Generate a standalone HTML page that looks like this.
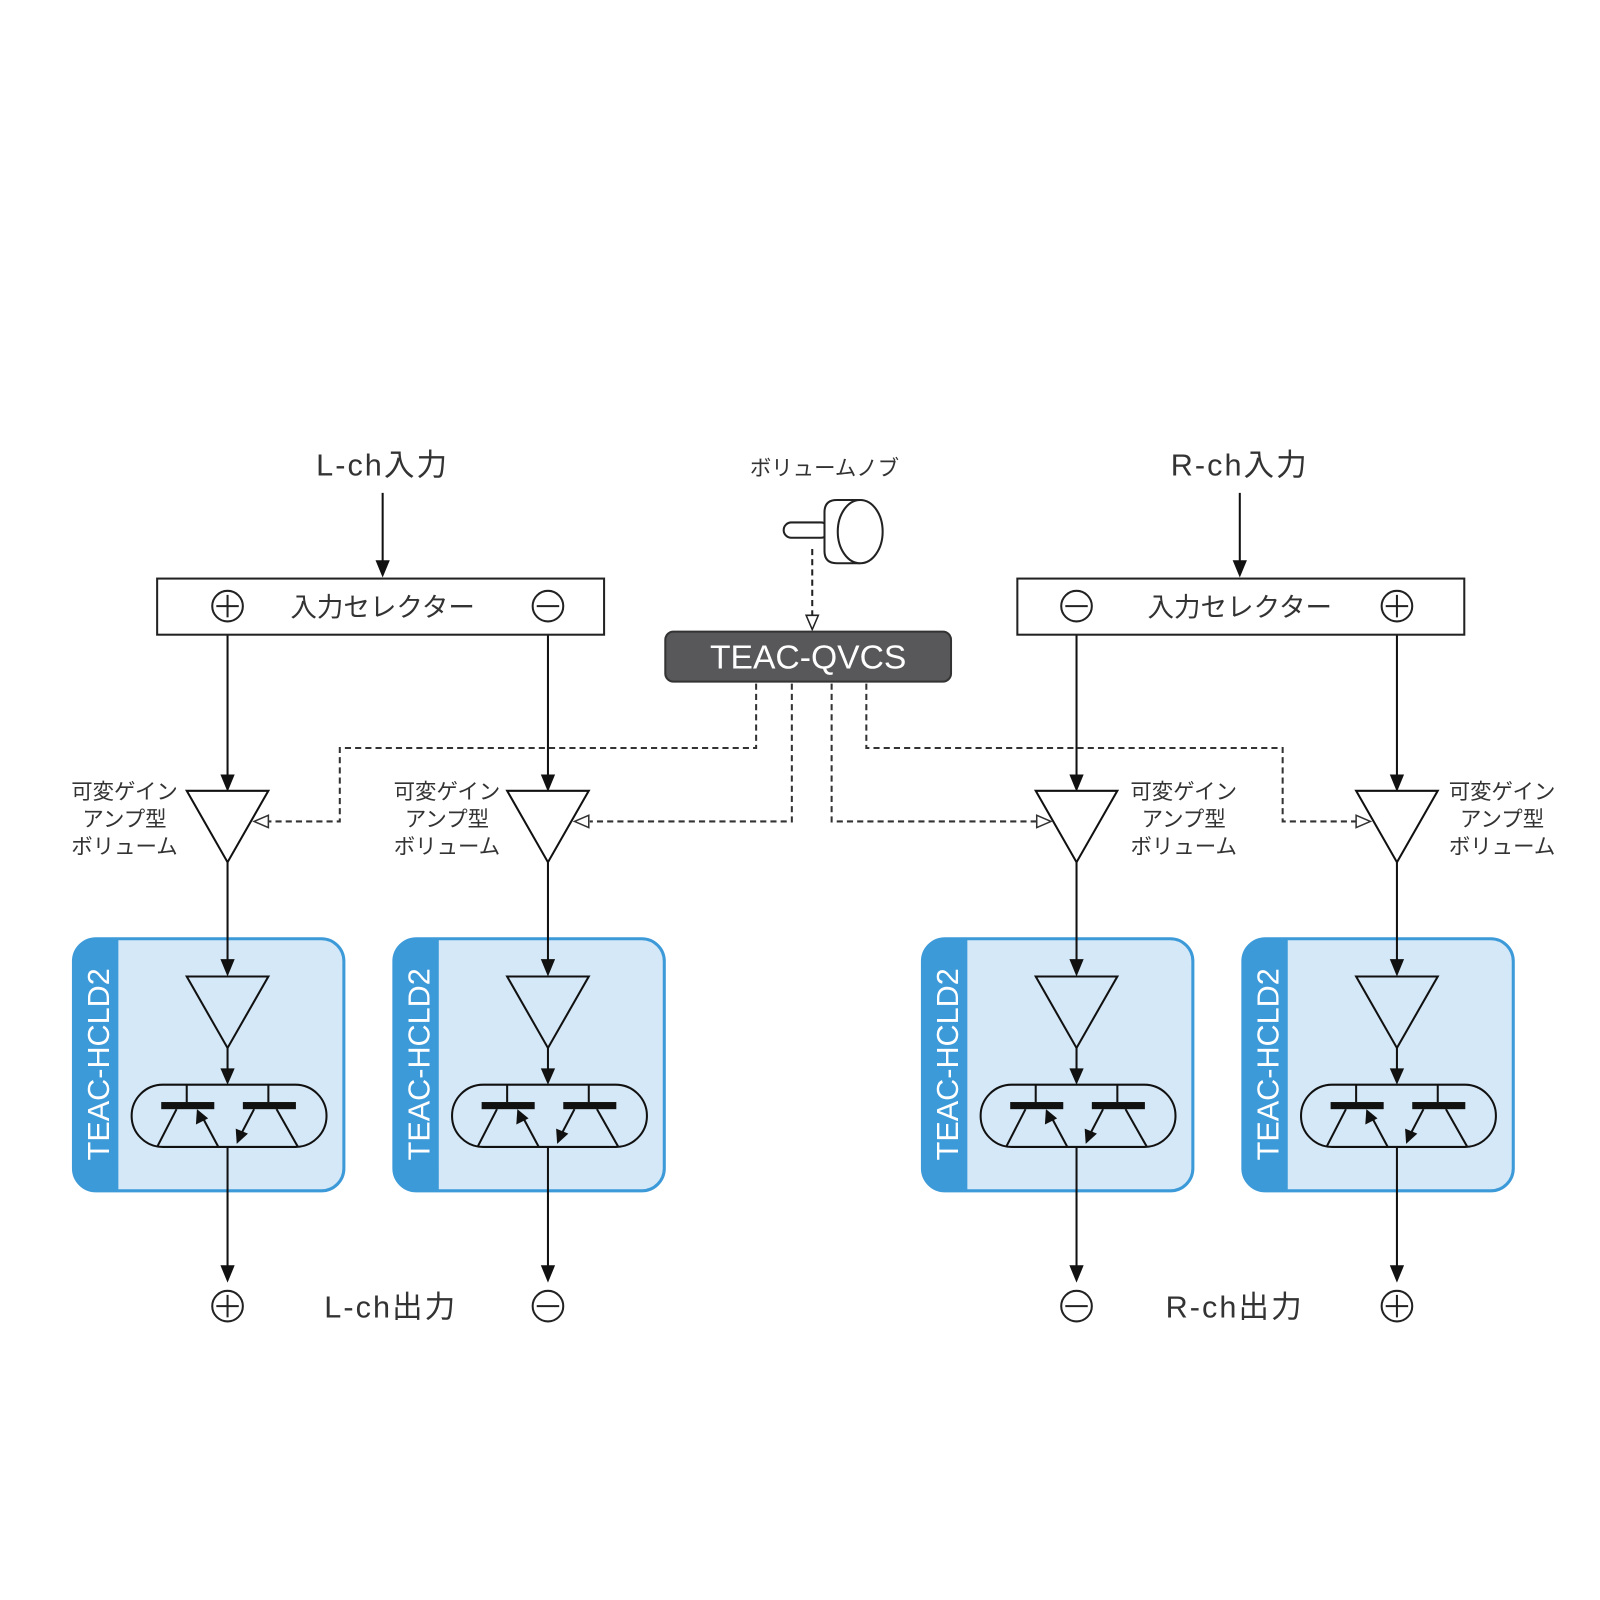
<!DOCTYPE html>
<html><head><meta charset="utf-8"><style>
html,body{margin:0;padding:0;background:#fff;}
svg{display:block;}
text{font-family:"Liberation Sans","Noto Sans CJK JP",sans-serif;fill:#333;}
</style></head><body>
<svg width="1600" height="1600" viewBox="0 0 1568 1568" xmlns="http://www.w3.org/2000/svg">
<defs>
<g id="hcld">
  <rect x="72" y="920" width="265" height="247" rx="22" fill="#d5e8f7" stroke="#3d9ad9" stroke-width="3"/>
  <path d="M116 920 H94 A22 22 0 0 0 72 942 V1145 A22 22 0 0 0 94 1167 H116 Z" fill="#3d9ad9"/>
  <text x="0" y="0" transform="translate(107,1043) rotate(-90)" text-anchor="middle" font-size="30" style="fill:#fff">TEAC-HCLD2</text>
  <line x1="223" y1="845" x2="223" y2="945" stroke="#111" stroke-width="2"/>
  <polygon points="216,940 230,940 223,957" fill="#111"/>
  <polygon points="183,957 263,957 223,1027" fill="none" stroke="#111" stroke-width="2"/>
  <line x1="223" y1="1027" x2="223" y2="1050" stroke="#111" stroke-width="2"/>
  <polygon points="216,1047 230,1047 223,1063" fill="#111"/>
  <rect x="129" y="1063" width="191" height="61" rx="30.5" fill="none" stroke="#111" stroke-width="2"/>
  <rect x="158" y="1080" width="52" height="7" fill="#111"/>
  <rect x="238" y="1080" width="52" height="7" fill="#111"/>
  <line x1="183" y1="1063" x2="183" y2="1080" stroke="#111" stroke-width="2"/>
  <line x1="263" y1="1063" x2="263" y2="1080" stroke="#111" stroke-width="2"/>
  <line x1="173" y1="1087" x2="154" y2="1124" stroke="#111" stroke-width="2"/>
  <line x1="214" y1="1124" x2="199" y2="1096" stroke="#111" stroke-width="2"/>
  <polygon points="193,1087 192,1102 204,1096" fill="#111"/>
  <line x1="249" y1="1087" x2="237" y2="1110" stroke="#111" stroke-width="2"/>
  <polygon points="232,1121 231,1106 243,1111" fill="#111"/>
  <line x1="271" y1="1087" x2="292" y2="1124" stroke="#111" stroke-width="2"/>
  <line x1="223" y1="1124" x2="223" y2="1245" stroke="#111" stroke-width="2"/>
  <polygon points="216,1240 230,1240 223,1257" fill="#111"/>
  <line x1="223" y1="622" x2="223" y2="762" stroke="#111" stroke-width="2"/>
  <polygon points="216,759 230,759 223,776" fill="#111"/>
  <polygon points="183,775 263,775 223,845" fill="#fff" stroke="#111" stroke-width="2"/>
</g>
<g id="plus"><circle r="15" fill="none" stroke="#222" stroke-width="2"/><line x1="-11" y1="0" x2="11" y2="0" stroke="#222" stroke-width="2"/><line x1="0" y1="-11" x2="0" y2="11" stroke="#222" stroke-width="2"/></g>
<g id="minus"><circle r="15" fill="none" stroke="#222" stroke-width="2"/><line x1="-11" y1="0" x2="11" y2="0" stroke="#222" stroke-width="2"/></g>
<g id="lbl" font-size="21" text-anchor="middle">
  <text x="0" y="783">可変ゲイン</text><text x="0" y="810">アンプ型</text><text x="0" y="837">ボリューム</text>
</g>
</defs>

<use href="#hcld"/>
<use href="#hcld" transform="translate(314,0)"/>
<use href="#hcld" transform="translate(832,0)"/>
<use href="#hcld" transform="translate(1146,0)"/>

<use href="#lbl" transform="translate(122,0)"/>
<use href="#lbl" transform="translate(438,0)"/>
<use href="#lbl" transform="translate(1160,0)"/>
<use href="#lbl" transform="translate(1472,0)"/>

<text x="375" y="466" font-size="30" text-anchor="middle" letter-spacing="2">L-ch入力</text>
<text x="1215" y="466" font-size="30" text-anchor="middle" letter-spacing="2">R-ch入力</text>
<text x="808" y="466" font-size="21" text-anchor="middle">ボリュームノブ</text>
<line x1="375" y1="483" x2="375" y2="553" stroke="#111" stroke-width="2"/>
<polygon points="368,549 382,549 375,566" fill="#111"/>
<line x1="1215" y1="483" x2="1215" y2="553" stroke="#111" stroke-width="2"/>
<polygon points="1208,549 1222,549 1215,566" fill="#111"/>

<rect x="154" y="567" width="438" height="55" fill="#fff" stroke="#222" stroke-width="2"/>
<use href="#plus" transform="translate(223,594)"/>
<use href="#minus" transform="translate(537,594)"/>
<text x="375" y="604" font-size="26" text-anchor="middle">入力セレクター</text>
<rect x="997" y="567" width="438" height="55" fill="#fff" stroke="#222" stroke-width="2"/>
<use href="#minus" transform="translate(1055,594)"/>
<use href="#plus" transform="translate(1369,594)"/>
<text x="1215" y="604" font-size="26" text-anchor="middle">入力セレクター</text>

<rect x="768" y="512" width="44" height="15" rx="7.5" fill="#fff" stroke="#222" stroke-width="2"/>
<path d="M843 490 H820 Q808 490 808 502 V540 Q808 552 820 552 H843" fill="#fff" stroke="#222" stroke-width="2"/>
<ellipse cx="843" cy="521" rx="22" ry="31" fill="#fff" stroke="#222" stroke-width="2"/>
<line x1="796" y1="538" x2="796" y2="603" stroke="#222" stroke-width="2" stroke-dasharray="6,4"/>
<polygon points="790,603 802,603 796,617" fill="#fff" stroke="#222" stroke-width="1.5"/>

<rect x="652" y="619" width="280" height="49" rx="8" fill="#58585a" stroke="#333" stroke-width="2"/>
<text x="792" y="655" font-size="33" text-anchor="middle" style="fill:#fff">TEAC-QVCS</text>

<g fill="none" stroke="#333" stroke-width="2" stroke-dasharray="6,4">
<polyline points="741,670 741,733 333,733 333,805 262,805"/>
<polyline points="776,670 776,805 578,805"/>
<polyline points="815,670 815,805 1016,805"/>
<polyline points="849,670 849,733 1257,733 1257,805 1330,805"/>
</g>
<g fill="#fff" stroke="#333" stroke-width="1.5">
<polygon points="249,805 263,799 263,811"/>
<polygon points="563,805 577,799 577,811"/>
<polygon points="1030,805 1016,799 1016,811"/>
<polygon points="1343,805 1329,799 1329,811"/>
</g>

<use href="#plus" transform="translate(223,1280)"/>
<use href="#minus" transform="translate(537,1280)"/>
<use href="#minus" transform="translate(1055,1280)"/>
<use href="#plus" transform="translate(1369,1280)"/>
<text x="383" y="1291" font-size="30" text-anchor="middle" letter-spacing="2">L-ch出力</text>
<text x="1210" y="1291" font-size="30" text-anchor="middle" letter-spacing="2">R-ch出力</text>
</svg>
</body></html>
